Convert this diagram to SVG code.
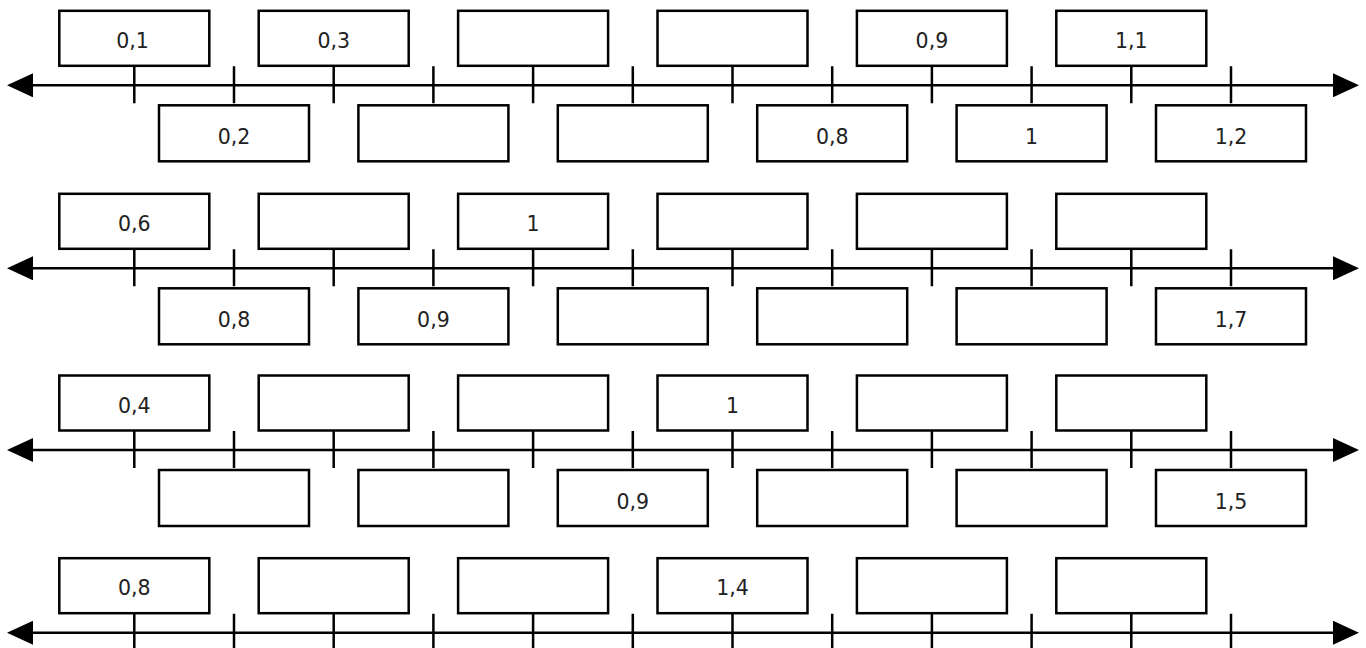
<svg xmlns="http://www.w3.org/2000/svg" width="1366" height="648" viewBox="0 0 1366 648">
<style>
.box{fill:#fff;stroke:#000;stroke-width:2.5}
.ax{stroke:#000;stroke-width:2.5;fill:none}
.tk{stroke:#000;stroke-width:2.5}
text{font-family:"DejaVu Sans","Liberation Sans",sans-serif;font-size:20.5px;fill:#222;text-anchor:middle}
</style>
<defs>
<marker id="ah" viewBox="0 0 26 24" markerWidth="26" markerHeight="24" refX="0" refY="12" orient="auto-start-reverse" markerUnits="userSpaceOnUse">
<path d="M0,0 L26,12 L0,24 Z" fill="#000"/>
</marker>
</defs>
<g id="connectors">
<line class="ax" x1="33" y1="85.3" x2="1333" y2="85.3" marker-start="url(#ah)" marker-end="url(#ah)"/>
<line class="ax" x1="33" y1="268.3" x2="1333" y2="268.3" marker-start="url(#ah)" marker-end="url(#ah)"/>
<line class="ax" x1="33" y1="450" x2="1333" y2="450" marker-start="url(#ah)" marker-end="url(#ah)"/>
<line class="ax" x1="33" y1="632.7" x2="1333" y2="632.7" marker-start="url(#ah)" marker-end="url(#ah)"/>
<path class="tk" d="M134.3,66.3V103.3 M234,66.3V103.3 M333.7,66.3V103.3 M433.4,66.3V103.3 M533.1,66.3V103.3 M632.8,66.3V103.3 M732.5,66.3V103.3 M832.2,66.3V103.3 M931.9,66.3V103.3 M1031.6,66.3V103.3 M1131.3,66.3V103.3 M1231,66.3V103.3"/>
<path class="tk" d="M134.3,249.3V286.3 M234,249.3V286.3 M333.7,249.3V286.3 M433.4,249.3V286.3 M533.1,249.3V286.3 M632.8,249.3V286.3 M732.5,249.3V286.3 M832.2,249.3V286.3 M931.9,249.3V286.3 M1031.6,249.3V286.3 M1131.3,249.3V286.3 M1231,249.3V286.3"/>
<path class="tk" d="M134.3,431V468 M234,431V468 M333.7,431V468 M433.4,431V468 M533.1,431V468 M632.8,431V468 M732.5,431V468 M832.2,431V468 M931.9,431V468 M1031.6,431V468 M1131.3,431V468 M1231,431V468"/>
<path class="tk" d="M134.3,613.7V650.7 M234,613.7V650.7 M333.7,613.7V650.7 M433.4,613.7V650.7 M533.1,613.7V650.7 M632.8,613.7V650.7 M732.5,613.7V650.7 M832.2,613.7V650.7 M931.9,613.7V650.7 M1031.6,613.7V650.7 M1131.3,613.7V650.7 M1231,613.7V650.7"/>
</g>
<!-- Row 1 -->
<g id="r1t1"><rect class="box" x="59.3" y="10.8" width="150" height="55"/><text x="132.5" y="47.8">0,1</text></g>
<g id="r1t2"><rect class="box" x="258.7" y="10.8" width="150" height="55"/><text x="333.7" y="47.8">0,3</text></g>
<g id="r1t3"><rect class="box" x="458.1" y="10.8" width="150" height="55"/></g>
<g id="r1t4"><rect class="box" x="657.5" y="10.8" width="150" height="55"/></g>
<g id="r1t5"><rect class="box" x="856.9" y="10.8" width="150" height="55"/><text x="931.9" y="47.8">0,9</text></g>
<g id="r1t6"><rect class="box" x="1056.3" y="10.8" width="150" height="55"/><text x="1131.3" y="47.8">1,1</text></g>
<g id="r1b1"><rect class="box" x="159" y="105.3" width="150" height="56"/><text x="234" y="144.2">0,2</text></g>
<g id="r1b2"><rect class="box" x="358.4" y="105.3" width="150" height="56"/></g>
<g id="r1b3"><rect class="box" x="557.8" y="105.3" width="150" height="56"/></g>
<g id="r1b4"><rect class="box" x="757.2" y="105.3" width="150" height="56"/><text x="832.2" y="144.2">0,8</text></g>
<g id="r1b5"><rect class="box" x="956.6" y="105.3" width="150" height="56"/><text x="1031.6" y="144.2">1</text></g>
<g id="r1b6"><rect class="box" x="1156" y="105.3" width="150" height="56"/><text x="1231" y="144.2">1,2</text></g>
<!-- Row 2 -->
<g id="r2t1"><rect class="box" x="59.3" y="193.8" width="150" height="55"/><text x="134.3" y="230.8">0,6</text></g>
<g id="r2t2"><rect class="box" x="258.7" y="193.8" width="150" height="55"/></g>
<g id="r2t3"><rect class="box" x="458.1" y="193.8" width="150" height="55"/><text x="533.1" y="230.8">1</text></g>
<g id="r2t4"><rect class="box" x="657.5" y="193.8" width="150" height="55"/></g>
<g id="r2t5"><rect class="box" x="856.9" y="193.8" width="150" height="55"/></g>
<g id="r2t6"><rect class="box" x="1056.3" y="193.8" width="150" height="55"/></g>
<g id="r2b1"><rect class="box" x="159" y="288.3" width="150" height="56"/><text x="234" y="327.2">0,8</text></g>
<g id="r2b2"><rect class="box" x="358.4" y="288.3" width="150" height="56"/><text x="433.4" y="327.2">0,9</text></g>
<g id="r2b3"><rect class="box" x="557.8" y="288.3" width="150" height="56"/></g>
<g id="r2b4"><rect class="box" x="757.2" y="288.3" width="150" height="56"/></g>
<g id="r2b5"><rect class="box" x="956.6" y="288.3" width="150" height="56"/></g>
<g id="r2b6"><rect class="box" x="1156" y="288.3" width="150" height="56"/><text x="1231" y="327.2">1,7</text></g>
<!-- Row 3 -->
<g id="r3t1"><rect class="box" x="59.3" y="375.5" width="150" height="55"/><text x="134.3" y="412.5">0,4</text></g>
<g id="r3t2"><rect class="box" x="258.7" y="375.5" width="150" height="55"/></g>
<g id="r3t3"><rect class="box" x="458.1" y="375.5" width="150" height="55"/></g>
<g id="r3t4"><rect class="box" x="657.5" y="375.5" width="150" height="55"/><text x="732.5" y="412.5">1</text></g>
<g id="r3t5"><rect class="box" x="856.9" y="375.5" width="150" height="55"/></g>
<g id="r3t6"><rect class="box" x="1056.3" y="375.5" width="150" height="55"/></g>
<g id="r3b1"><rect class="box" x="159" y="470" width="150" height="56"/></g>
<g id="r3b2"><rect class="box" x="358.4" y="470" width="150" height="56"/></g>
<g id="r3b3"><rect class="box" x="557.8" y="470" width="150" height="56"/><text x="632.8" y="508.9">0,9</text></g>
<g id="r3b4"><rect class="box" x="757.2" y="470" width="150" height="56"/></g>
<g id="r3b5"><rect class="box" x="956.6" y="470" width="150" height="56"/></g>
<g id="r3b6"><rect class="box" x="1156" y="470" width="150" height="56"/><text x="1231" y="508.9">1,5</text></g>
<!-- Row 4 -->
<g id="r4t1"><rect class="box" x="59.3" y="558.2" width="150" height="55"/><text x="134.3" y="595.2">0,8</text></g>
<g id="r4t2"><rect class="box" x="258.7" y="558.2" width="150" height="55"/></g>
<g id="r4t3"><rect class="box" x="458.1" y="558.2" width="150" height="55"/></g>
<g id="r4t4"><rect class="box" x="657.5" y="558.2" width="150" height="55"/><text x="732.5" y="595.2">1,4</text></g>
<g id="r4t5"><rect class="box" x="856.9" y="558.2" width="150" height="55"/></g>
<g id="r4t6"><rect class="box" x="1056.3" y="558.2" width="150" height="55"/></g>
</svg>
